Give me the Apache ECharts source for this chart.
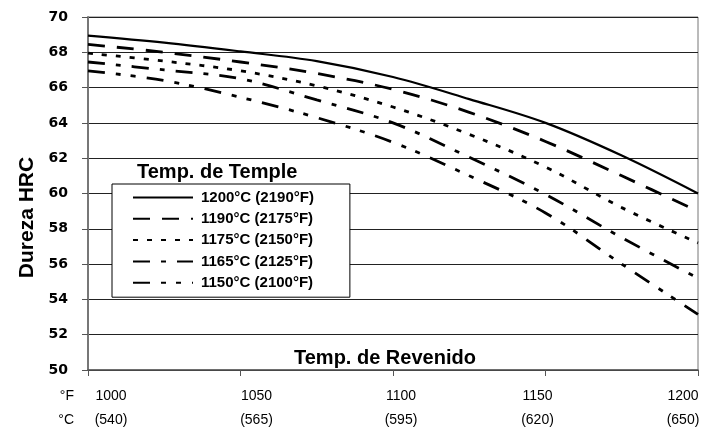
<!DOCTYPE html>
<html>
<head>
<meta charset="utf-8">
<script src="https://cdn.jsdelivr.net/npm/echarts@6/dist/echarts.min.js"></script>
<style>
  html, body { margin: 0; padding: 0; background: #fff; overflow: hidden; }
  #chart { width: 723px; height: 434px; }
</style>
</head>
<body>
<div id="chart"></div>
<script>
// temperatura de revenido (°F)
const tempRevenido = [1000, 1025, 1050, 1075, 1100, 1125, 1150, 1175, 1200];

// dureza HRC para cada temperatura de temple
const dur1200 = [68.95, 68.55, 68.05, 67.5, 66.6, 65.35, 64.0, 62.15, 60.0];
const dur1190 = [68.45, 68.0, 67.45, 66.8, 65.9, 64.6, 62.95, 61.0, 59.0];
const dur1175 = [67.95, 67.5, 66.95, 66.1, 64.9, 63.35, 61.5, 59.2, 57.2];
const dur1165 = [67.45, 67.0, 66.5, 65.3, 64.0, 62.05, 59.95, 57.5, 55.2];
const dur1150 = [66.95, 66.4, 65.45, 64.3, 62.9, 61.0, 58.9, 56.0, 53.15];

const nomes = ["1200°C (2190°F)", "1190°C (2175°F)", "1175°C (2150°F)", "1165°C (2125°F)", "1150°C (2100°F)"];

// rótulos do eixo x
const ticksF = [1000, 1050, 1100, 1150, 1200];
const ticksC = [540, 565, 595, 620, 650];

const FONT = "'Liberation Sans', Arial, sans-serif";

// deslocamento horizontal de cada rótulo (o original não fica centrado no traço)
const shifts = [23, 16, 8, -8, -15];
const rich = {};
shifts.forEach((d, i) => {
  rich["t" + i] = {
    fontFamily: FONT,
    fontSize: 14,
    color: "#000",
    lineHeight: 24,
    padding: d >= 0 ? [0, 0, 0, 2 * d] : [0, -2 * d, 0, 0]
  };
});

const mkLine = (name, data, dash, width) => ({
  name,
  type: "line",
  data: tempRevenido.map((t, i) => [t, data[i]]),
  smooth: 0.35,
  symbol: "none",
  lineStyle: { color: "#000", width, type: dash },
  itemStyle: { color: "#000" },
  z: 3
});

const myChart = echarts.init(document.getElementById("chart"));

const option = {
  animation: false,
  backgroundColor: "#fff",
  title: [
    {
      text: "Temp. de Revenido",
      left: 294,
      top: 348,
      padding: 0,
      textStyle: { fontFamily: FONT, fontSize: 20, fontWeight: "bold", color: "#000" }
    },
    {
      text: "Temp. de Temple",
      left: 137,
      top: 162,
      padding: 0,
      textStyle: { fontFamily: FONT, fontSize: 20, fontWeight: "bold", color: "#000" }
    }
  ],
  legend: {
    orient: "vertical",
    left: 112,
    top: 184,
    data: nomes,
    itemWidth: 60,
    itemHeight: 14,
    itemGap: 6.3,
    padding: [6, 36, 7, 20],
    backgroundColor: "#fff",
    borderColor: "#000",
    borderWidth: 1,
    borderRadius: 0,
    itemStyle: { opacity: 0 },
    textStyle: { fontFamily: FONT, fontSize: 15, fontWeight: "bold", color: "#000", padding: [0, 0, 0, 3] }
  },
  grid: {
    left: 88,
    right: 25,
    top: 17,
    bottom: 64,
    outerBoundsMode: "none",
    containLabel: false,
    show: true,
    borderColor: "#777",
    borderWidth: 1
  },
  xAxis: {
    type: "value",
    min: 1000,
    max: 1200,
    interval: 50,
    name: "°F\n°C",
    nameLocation: "start",
    nameGap: 14,
    nameMoveOverlap: false,
    nameTextStyle: {
      fontFamily: FONT,
      fontSize: 14,
      color: "#000",
      lineHeight: 24,
      verticalAlign: "top",
      align: "right",
      padding: [14, 0, 0, 0]
    },
    axisLine: { lineStyle: { color: "#555", width: 1.5 } },
    axisTick: { show: true, length: 6, lineStyle: { color: "#555" } },
    splitLine: { show: false },
    axisLabel: {
      margin: 14,
      formatter: (v) => {
        const i = ticksF.indexOf(v);
        if (i < 0) return "";
        return `{t${i}|${v}}\n{t${i}|(${ticksC[i]})}`;
      },
      rich
    }
  },
  yAxis: {
    type: "value",
    min: 50,
    max: 70,
    interval: 2,
    name: "Dureza HRC",
    nameLocation: "middle",
    nameGap: 50,
    nameMoveOverlap: false,
    nameTextStyle: {
      fontFamily: FONT,
      fontSize: 21,
      fontWeight: "bold",
      color: "#000",
      padding: [0, 48, 0, 0]
    },
    axisLine: { show: true, lineStyle: { color: "#777", width: 2 } },
    axisTick: { show: true, length: 6, lineStyle: { color: "#555" } },
    splitLine: { show: true, lineStyle: { color: "#222", width: 1 } },
    axisLabel: {
      margin: 20,
      fontFamily: "'DejaVu Sans', sans-serif",
      fontSize: 14,
      fontWeight: "bold",
      color: "#000"
    }
  },
  series: [
    mkLine(nomes[0], dur1200, "solid", 2.2),
    mkLine(nomes[1], dur1190, [17, 12], 2.8),
    mkLine(nomes[2], dur1175, [5, 9], 2.8),
    mkLine(nomes[3], dur1165, [17, 11, 5, 11], 2.8),
    mkLine(nomes[4], dur1150, [17, 11, 5, 10, 5, 11], 2.8)
  ]
};

myChart.setOption(option);
</script>
</body>
</html>
